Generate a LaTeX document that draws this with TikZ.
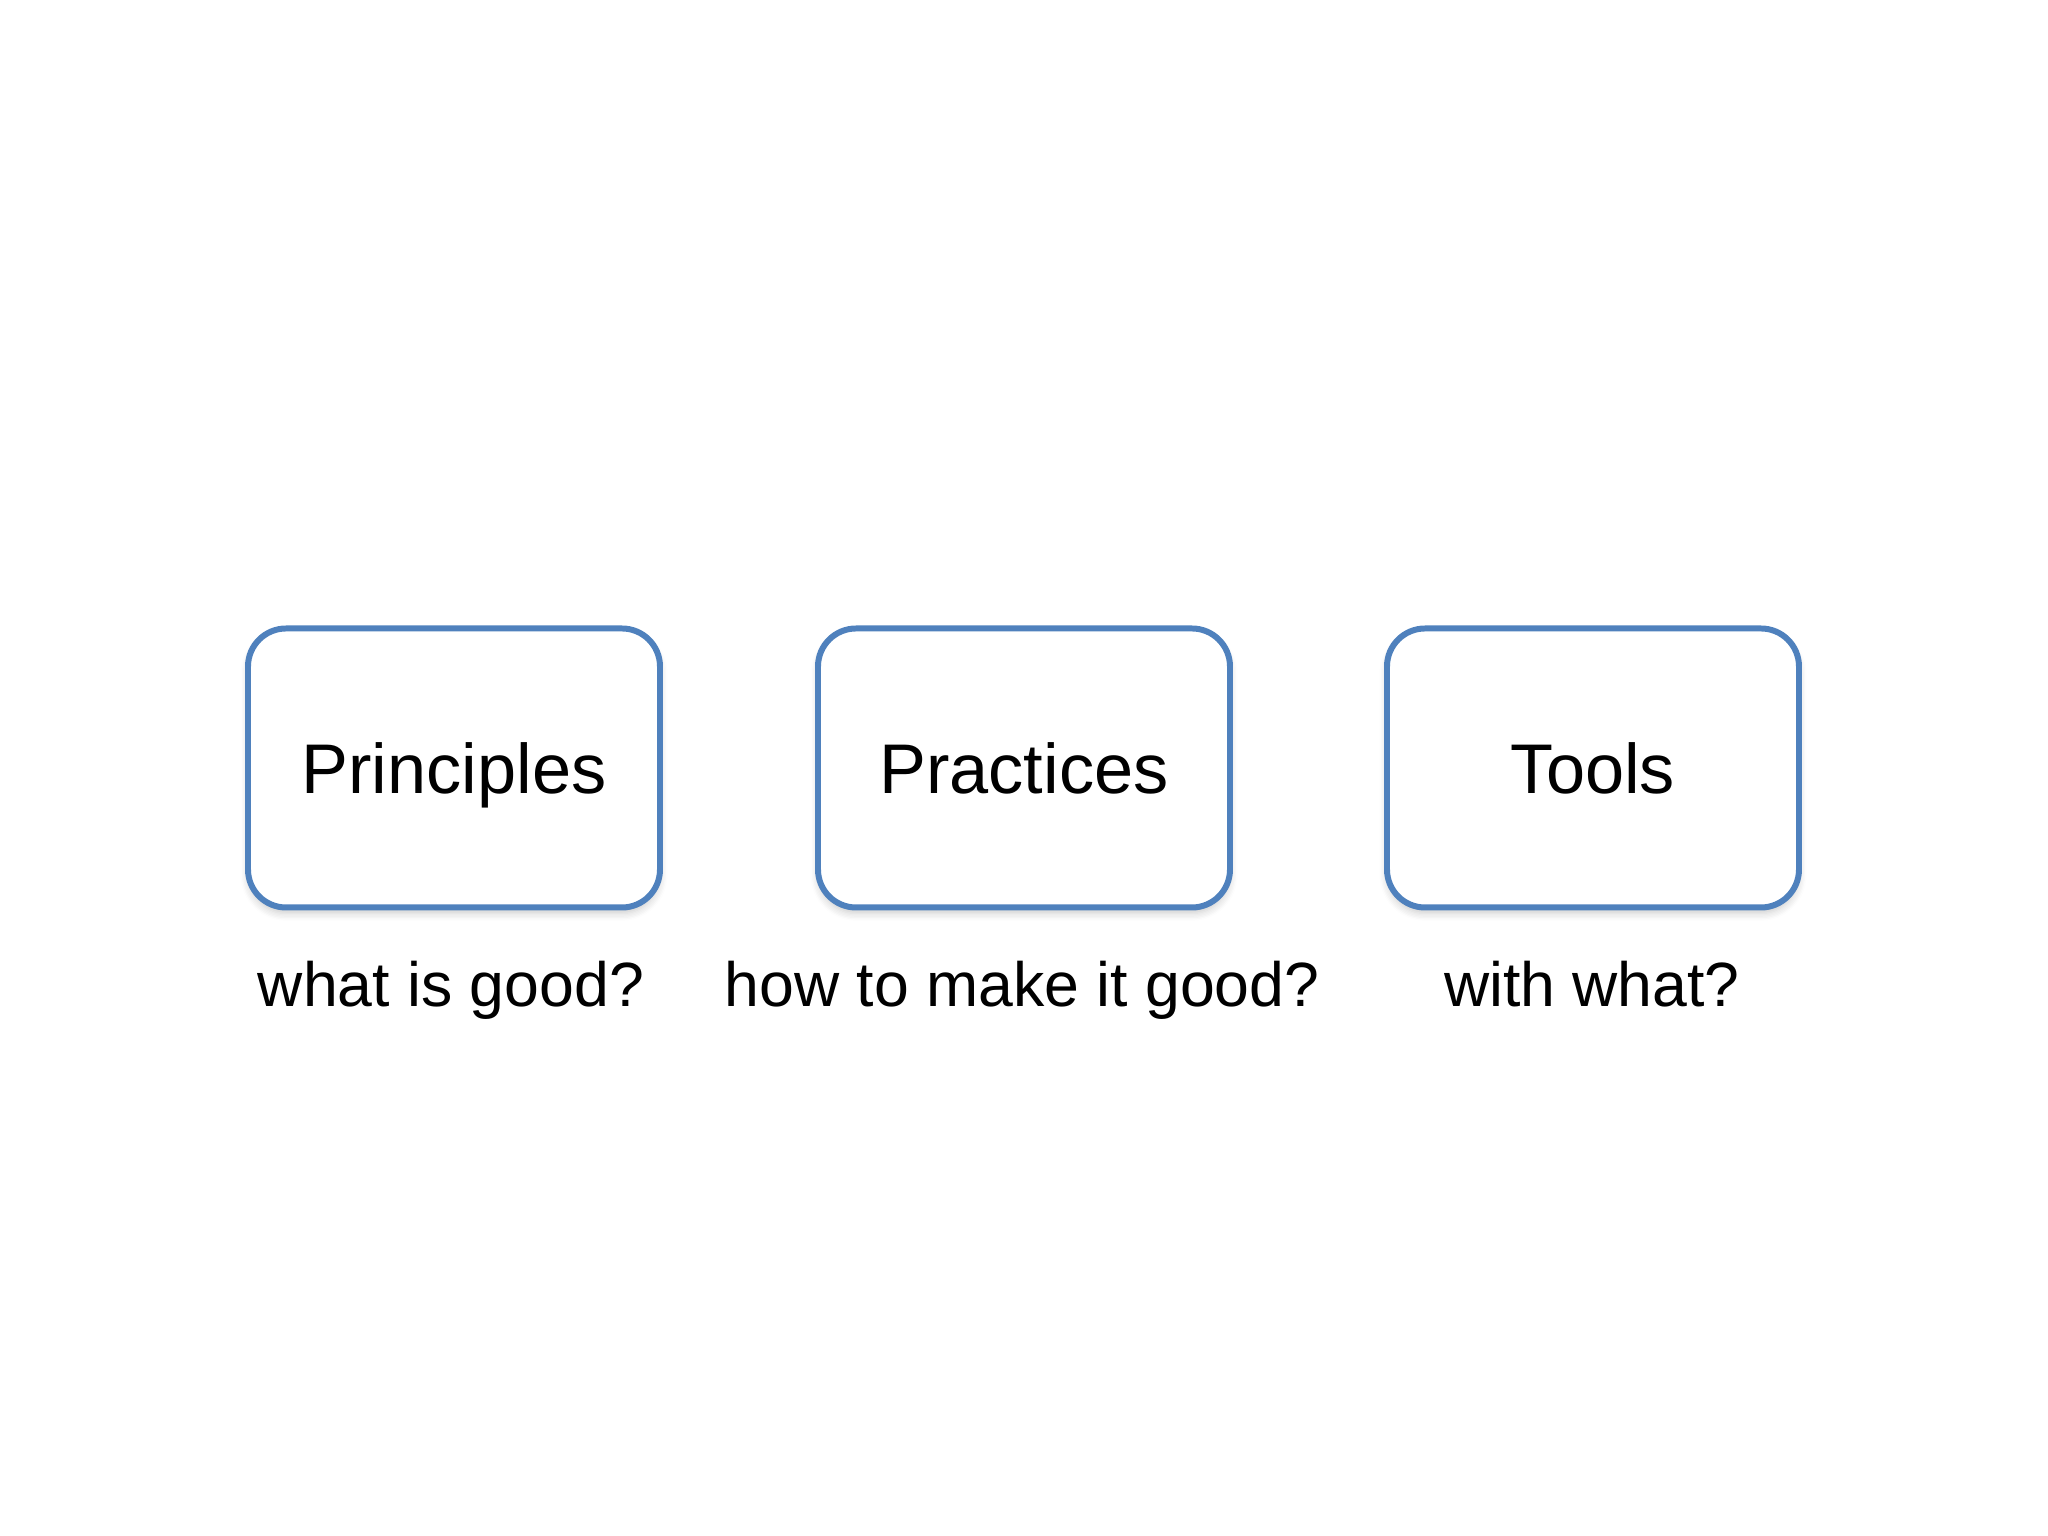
\documentclass[tikz,border=0pt]{standalone}
\usepackage{fontspec}
\setmainfont{Liberation Sans}
\usetikzlibrary{shadows.blur}

\definecolor{boxblue}{HTML}{4F81BD}
\tikzset{
  pbox/.style={draw=boxblue, line width=1.7pt, fill=white, rounded corners=0.38cm,
    minimum width=4.12cm, minimum height=2.79cm, inner sep=0pt, text depth=0pt,
    font=\fontsize{20}{24}\selectfont,
    blur shadow={shadow xshift=0pt, shadow yshift=-0.6mm, shadow blur steps=6, shadow opacity=20}},
  qlabel/.style={anchor=base, inner sep=0pt, font=\fontsize{17.8}{21}\selectfont}
}

\begin{document}
\begin{tikzpicture}
\useasboundingbox (0,0) rectangle (20.48,15.36);
\node[pbox] (princ) at (4.54,7.68) {Principles};
\node[pbox] (pract) at (10.24,7.68) {Practices};
\node[pbox] (tools) at (15.93,7.68) {Tools};
\node[qlabel] (qwhat) at (4.51,5.29) {what is good?};
\node[qlabel] (qhow) at (10.22,5.29) {how to make it good?};
\node[qlabel] (qwith) at (15.92,5.29) {with what?};
\end{tikzpicture}
\end{document}
